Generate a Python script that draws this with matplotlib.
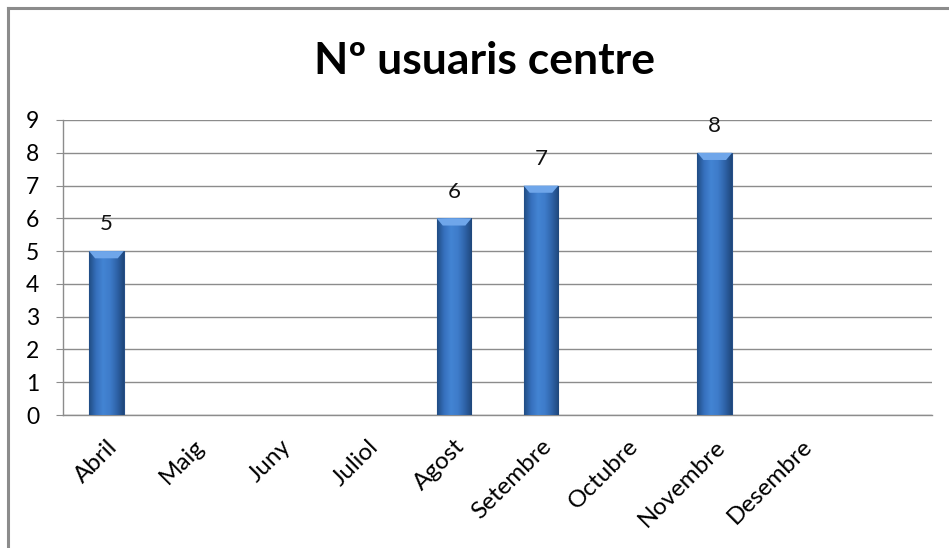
import matplotlib
matplotlib.use("Agg")
import matplotlib.pyplot as plt
import numpy as np
from matplotlib.colors import LinearSegmentedColormap
from matplotlib.lines import Line2D

MONTHS = ["Abril", "Maig", "Juny", "Juliol", "Agost", "Setembre",
          "Octubre", "Novembre", "Desembre", ""]
USERS = [5, None, None, None, 6, 7, None, 8, None, None]
Y_TICKS = list(range(0, 10))
TITLE = "Nº usuaris centre"

plt.rcParams["font.family"] = ["Lato", "DejaVu Sans"]

W, H = 949, 548
fig = plt.figure(figsize=(W / 100, H / 100), dpi=100)
ax = fig.add_axes([63 / W, (H - 415) / H, (932 - 63) / W, (415 - 120) / H])

# outer chart frame (left and top only visible)
fig.add_artist(Line2D([7.5 / W, 7.5 / W], [0, 1 - 8 / H], color="#8c8c8c", lw=2.2, transform=fig.transFigure))
fig.add_artist(Line2D([7.5 / W, 1], [1 - 8 / H, 1 - 8 / H], color="#8c8c8c", lw=2.2, transform=fig.transFigure))

x = np.arange(len(MONTHS))
shade = LinearSegmentedColormap.from_list(
    "bar", ["#214d85", "#3670bd", "#4384d3", "#3e7cca", "#2f64aa", "#1f477c"])
grad = np.tile(np.linspace(0, 1, 64), (2, 1))
bar_w = 0.40
bevel_h = 0.22
bevel_in = 0.07

for xi, v in zip(x, USERS):
    if v is None:
        continue
    rect = ax.bar(xi, v, width=bar_w, color="#3a72bf", edgecolor="#264f88", linewidth=0.8, zorder=3)[0]
    img = ax.imshow(grad, cmap=shade, aspect="auto", zorder=3.1,
                    extent=(xi - bar_w / 2, xi + bar_w / 2, 0, v))
    img.set_clip_path(rect)
    # light bevel on top
    l, r = xi - bar_w / 2, xi + bar_w / 2
    ax.fill([l, r, r - bevel_in, l + bevel_in], [v, v, v - bevel_h, v - bevel_h],
            color="#6fa6ea", zorder=3.2, lw=0)
    ax.annotate(str(v), (xi, v), xytext=(0, 12), textcoords="offset points",
                ha="center", va="bottom", fontsize=16, color="#111111")

ax.set_xlim(-0.5, len(MONTHS) - 0.5)
ax.set_ylim(0, 9)
ax.set_yticks(Y_TICKS)
ax.set_yticklabels([str(t) for t in Y_TICKS], fontsize=16.5)
ax.set_xticks(x)
ax.set_xticklabels(MONTHS, rotation=45, ha="right", rotation_mode="anchor", fontsize=17.5)
ax.tick_params(axis="x", length=0, pad=15)
ax.tick_params(axis="y", length=5, color="#8c8c8c", pad=12)

ax.grid(axis="y", color="#8c8c8c", lw=1.0, zorder=0)
ax.set_axisbelow(True)
for side in ["right", "top"]:
    ax.spines[side].set_visible(False)
for side in ["left", "bottom"]:
    ax.spines[side].set_color("#8c8c8c")
    ax.spines[side].set_linewidth(1.0)

fig.text(484 / W, 1 - 61 / H, TITLE, ha="center", va="center", fontsize=32, fontweight="bold")

fig.savefig("out.png", dpi=100)
